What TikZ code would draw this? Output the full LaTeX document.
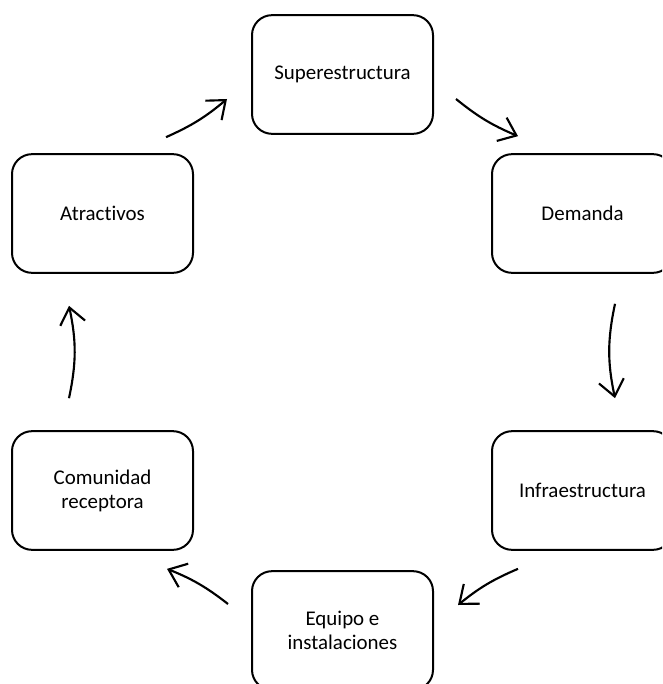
\documentclass[tikz,border=0pt]{standalone}
\usepackage{fontspec}
\setmainfont{Carlito}[Ligatures=NoCommon]
\usetikzlibrary{arrows.meta}
\tikzset{stage box/.style={
  draw, line width=1.5pt, rounded corners=15pt,
  minimum width=135.75pt, minimum height=89pt,
  align=center, font=\fontsize{15.7}{18}\selectfont
  },
  cycle arrow/.style={
  line width=1.6pt,
  -{Straight Barb[length=12pt,width=19pt,line width=1.6pt]}
  }
}

\begin{document}
\begin{tikzpicture}[x=0.75pt,y=-0.75pt]
    \useasboundingbox (0,0) rectangle (662,684);
    \begin{scope}
    \clip (0,0) rectangle (662,684);
    \node[stage box] (sup) at (342.5,74.5) {Superestructura};
    \node[stage box] (dem) at (582.5,213.5) {Demanda};
    \node[stage box] (inf) at (582.5,490.5) {Infraestructura};
    \node[stage box] (equ) at (342.5,630.5) {Equipo e\\instalaciones};
    \node[stage box] (com) at (102.5,490.5) {Comunidad\\receptora};
    \node[stage box] (atr) at (102.5,213.5) {Atractivos};
    \end{scope}

    \draw[cycle arrow] ([shift={(63.5,-16)}]atr.north) to[bend right=8] ([shift={(-24,24.5)}]sup.west);
    \draw[cycle arrow] ([shift={(22,24.5)}]sup.east) to[bend right=8] ([shift={(-64.5,-17)}]dem.north);
    \draw[cycle arrow] ([shift={(32.5,30)}]dem.south) to[bend right=12] ([shift={(32.5,-32)}]inf.north);
    \draw[cycle arrow] ([shift={(-64.5,18)}]inf.south) to[bend right=8] ([shift={(24,-25.5)}]equ.east);
    \draw[cycle arrow] ([shift={(-23,-26.5)}]equ.west) to[bend right=8] ([shift={(64.5,18)}]com.south);
    \draw[cycle arrow] ([shift={(-33.5,-32)}]com.north) to[bend right=12] ([shift={(-33.5,32)}]atr.south);
\end{tikzpicture}
\end{document}
